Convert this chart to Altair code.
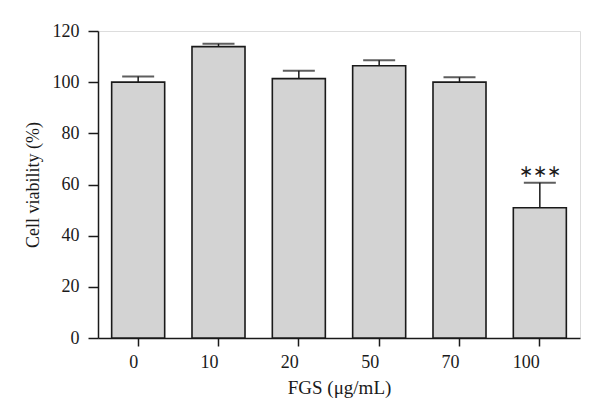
import altair as alt
import pandas as pd

doses = ["0", "10", "20", "50", "70", "100"]
viability = [100.0, 113.9, 101.4, 106.4, 100.0, 50.9]
upper = [102.2, 115.0, 104.5, 108.6, 101.9, 60.7]
marks = ["", "", "", "", "", "∗∗∗"]

df = pd.DataFrame({"dose": doses, "v": viability, "up": upper, "sig": marks})

FONT = "Liberation Serif"
INK = "#1a1a1a"

x = alt.X("dose:N", sort=doses,
          scale=alt.Scale(paddingInner=0.34, paddingOuter=0.17),
          axis=alt.Axis(title="FGS (μg/mL)", labelAngle=0, labelFont=FONT, labelFontSize=18,
                        titleFont=FONT, titleFontSize=19, titleFontWeight="normal",
                        labelColor=INK, titleColor=INK,
                        tickSize=8, tickWidth=1.5, tickColor=INK,
                        domainColor=INK, domainWidth=1.5, labelPadding=16, titlePadding=7))

y = alt.Y("v:Q", scale=alt.Scale(domain=[0, 120]),
          axis=alt.Axis(title="Cell viability (%)", values=[0, 20, 40, 60, 80, 100, 120],
                        labelFont=FONT, labelFontSize=18, titleFont=FONT, titleFontSize=18,
                        titleFontWeight="normal", labelColor=INK, titleColor=INK,
                        tickSize=10, tickWidth=1.5, tickColor=INK,
                        domainColor=INK, domainWidth=1.5, labelPadding=9, titlePadding=10,
                        grid=False))

base = alt.Chart(df)

err = base.mark_rule(color=INK, strokeWidth=1.5).encode(
    x=alt.X("dose:N", sort=doses), y="v:Q", y2="up:Q")
cap = base.mark_tick(color=INK, thickness=2, size=32, orient="horizontal").encode(
    x=alt.X("dose:N", sort=doses), y="up:Q")
bars = base.mark_bar(fill="#d3d3d3", stroke=INK, strokeWidth=1.6).encode(x=x, y=y)
txt = base.mark_text(font=FONT, fontSize=17, dy=-11, color=INK).encode(
    x=alt.X("dose:N", sort=doses), y="up:Q", text="sig:N")

chart = alt.layer(err, bars, cap, txt).properties(
    width=482, height=307,
    autosize=alt.AutoSizeParams(type="none"),
    padding={"left": 90, "top": 23, "right": 10, "bottom": 70},
).configure_view(stroke=None).configure(background="white")

chart.save("out.html", embed_options={"renderer": "svg", "actions": False})
